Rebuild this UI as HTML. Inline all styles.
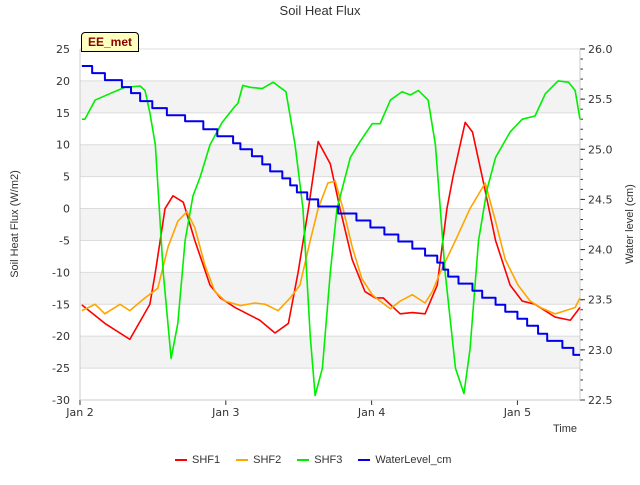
<!DOCTYPE html>
<html><head><meta charset="utf-8"><style>
body{margin:0;background:#fff;font-family:"Liberation Sans","DejaVu Sans",sans-serif}
svg text{font-family:"DejaVu Sans","Liberation Sans",sans-serif}
</style></head><body>
<svg id="c" width="640" height="480"></svg>
<script>
const xTickLabels=["Jan 2","Jan 3","Jan 4","Jan 5"];
const xTickHours=[0,24,48,72];
const yTicks=[25,20,15,10,5,0,-5,-10,-15,-20,-25,-30];
const y2Ticks=[26.0,25.5,25.0,24.5,24.0,23.5,23.0,22.5];
const shf1T=[0.3,4.1,8.2,11.5,12.4,14,15.3,17,18.9,21.4,23.1,25.5,29.6,32.1,34.3,35.9,37.6,39.2,41.2,42.8,44.8,46.9,48.6,49.9,52.7,54.7,56.8,58.8,60.4,61.4,63.4,64.6,66.2,68.4,70.8,72.8,74.9,78.2,80.7,82.3];
const shf1V=[-15.1,-18,-20.5,-15,-10,0,2,1,-5,-12,-14,-15.5,-17.5,-19.5,-18,-10,0,10.5,7,0,-8,-13,-14,-14,-16.5,-16.3,-16.5,-12,0,5,13.5,12,5,-5,-12,-14.5,-15,-17,-17.5,-15.5];
const shf2T=[0.3,2.5,4.1,4.9,6.6,8.2,10.7,12.8,14.5,16.1,17.6,18.9,20.6,22.2,23.9,26.4,28.8,30.5,32.6,34.6,36.2,37.9,39.2,40.8,42,43.3,44.8,46.4,48.1,49.4,51.1,52.7,54.7,56.8,58,59.3,61.8,64.2,66.7,68.4,70,72.1,74.1,75.8,78.2,79.9,81.5,82.3];
const shf2V=[-16,-15,-16.5,-16,-15,-16,-14,-12.5,-6,-2,-0.5,-3,-9,-13,-14.5,-15.2,-14.8,-15,-16,-14,-12,-5,0,4,4.3,0,-6,-11,-13.5,-14.5,-15.7,-14.5,-13.5,-14.8,-13,-10,-5,0,4,-2,-8,-12,-14.5,-15.5,-16.5,-16,-15.5,-14];
const shf3T=[0.3,0.8,2.5,4.9,7.4,9.9,10.7,11.5,12.4,13.7,15,16.1,17.3,18.6,19.8,21.4,23.4,25.5,26,26.8,28,30,31.8,33.9,35.4,36.7,37.9,38.7,39.9,41.2,42.3,44.5,46.1,48.1,49.4,51.1,53,54.4,55.7,57.3,58.5,60.1,61.8,63.2,64.2,65.6,67,68.4,70.8,72.8,74.9,76.6,78.7,80.4,81.5,82.3];
const shf3V=[14,14,17,18,19,19.2,18.5,15,10,-10,-23.5,-18,-5,2,5,10,13.5,16,16.5,19.3,19,18.8,19.8,18.3,10,0,-20,-29.3,-25,-10,0,8,10.5,13.3,13.3,17,18.3,17.8,18.5,17,10,-10,-25,-29,-22,-5,3,8,12,14,14.5,18,20,19.8,18.5,14];
const wlT=[0.3,2,4.1,6.9,8.4,9.9,11.9,14.3,17.3,20.3,22.6,25.2,26.4,28.3,30,31.3,33.3,34.6,35.7,37.4,39.2,42.5,45.5,47.8,50.1,52.4,54.7,56.8,58.8,59.8,60.6,62.3,64.6,66.2,68.4,70,72,73.6,75.4,76.9,79.4,81.2];
const wlV=[25.83,25.76,25.69,25.62,25.56,25.48,25.41,25.34,25.28,25.20,25.13,25.06,25.00,24.93,24.85,24.78,24.71,24.64,24.57,24.50,24.43,24.36,24.29,24.22,24.15,24.08,24.01,23.94,23.87,23.80,23.73,23.66,23.59,23.52,23.45,23.38,23.31,23.24,23.16,23.09,23.02,22.95];
const X0=80,X1=580,Y0=49,Y1=400,HMAX=82.3;
const xs=h=>X0+(X1-X0)*h/HMAX;
const ys=v=>Y0+(25-v)*(Y1-Y0)/55;
const y2s=v=>Y0+(26-v)*(Y1-Y0)/3.5;
const svg=document.getElementById('c');const NS='http://www.w3.org/2000/svg';
function mk(tag,attrs,parent){const e=document.createElementNS(NS,tag);for(const k in attrs)e.setAttribute(k,attrs[k]);(parent||svg).appendChild(e);return e;}
function txt(s,attrs){const e=mk('text',attrs);e.textContent=s;return e;}
// bands
for(let v=20;v>-30;v-=10){const b=mk('rect',{x:X0,y:ys(v),width:X1-X0,height:ys(v-5)-ys(v),fill:'#f3f3f3'});

}
yTicks.forEach(v=>{const l=mk('line',{x1:X0,x2:X1,y1:ys(v),y2:ys(v),stroke:'#dcdcdc','stroke-width':1});


const t=txt(String(v),{x:X0-10,y:ys(v)+4,'text-anchor':'end','font-size':11,fill:'#333'});

});
y2Ticks.forEach(v=>{const t=txt(v.toFixed(1),{x:X1+8,y:y2s(v)+4,'font-size':11,fill:'#333'});


mk('line',{x1:X1,x2:X1+5,y1:y2s(v),y2:y2s(v),stroke:'#333'});});
for(let i=0;i<35;i++){const v=26-i*0.1;mk('line',{x1:X1,x2:X1+3,y1:y2s(v),y2:y2s(v),stroke:'#333'});}
xTickHours.forEach((h,i)=>{mk('line',{x1:xs(h),x2:xs(h),y1:Y1,y2:Y1+5,stroke:'#333'});
const t=txt(xTickLabels[i],{x:xs(h),y:Y1+16,'text-anchor':'middle','font-size':11,fill:'#333'});

});
mk('line',{x1:X0,x2:X0,y1:Y0,y2:Y1,stroke:'#ccc'});mk('line',{x1:X1,x2:X1,y1:Y0,y2:Y1,stroke:'#ccc'});
mk('line',{x1:X0,x2:X1,y1:Y1,y2:Y1,stroke:'#ccc'});
function series(T,V,ysc,color,name,step){let d='';T.forEach((t,i)=>{const x=xs(t),y=ysc(V[i]);
if(i==0)d+='M'+x+','+y;else if(step)d+='H'+x+'V'+y;else d+='L'+x+','+y;});
if(step)d+='H'+X1;
const p=mk('path',{d:d,fill:'none',stroke:color,'stroke-width':step?2:1.6,'stroke-linejoin':'round'});

}
series(shf1T,shf1V,ys,'#ff0000','shf1-line');
series(shf2T,shf2V,ys,'#ffa500','shf2-line');
series(shf3T,shf3V,ys,'#00ee00','shf3-line');
series(wlT,wlV,y2s,'#0000ee','water-level-line',true);
</script>
<div style="position:absolute;left:0;top:0;width:640px;height:480px;pointer-events:none">
<div style="position:absolute;top:3px;width:640px;text-align:center;font-size:13px;color:#333">Soil Heat Flux</div>
<div style="position:absolute;left:81px;top:32px;padding:2px 6px;background:#ffffc0;border:1px solid #000;border-radius:4px 4px 0 0;font-size:12px;font-weight:bold;color:#8b0000">EE_met</div>
<div style="position:absolute;left:-45px;top:218px;width:120px;text-align:center;transform:rotate(-90deg);font-size:11px;color:#333">Soil Heat Flux (W/m2)</div>
<div style="position:absolute;left:575px;top:218px;width:110px;text-align:center;transform:rotate(-90deg);font-size:11px;color:#333">Water level (cm)</div>
<div style="position:absolute;left:553px;top:423px;font-size:11px;color:#333">Time</div>
<div style="position:absolute;top:454px;left:175px;font-size:11px;color:#333;display:flex;gap:16px;white-space:nowrap">
<span><span style="display:inline-block;width:12px;height:2px;background:#f00;vertical-align:middle;margin-right:5px"></span>SHF1</span>
<span><span style="display:inline-block;width:12px;height:2px;background:#ffa500;vertical-align:middle;margin-right:5px"></span>SHF2</span>
<span><span style="display:inline-block;width:12px;height:2px;background:#0e0;vertical-align:middle;margin-right:5px"></span>SHF3</span>
<span><span style="display:inline-block;width:12px;height:2px;background:#00e;vertical-align:middle;margin-right:5px"></span>WaterLevel_cm</span>
</div></div>
</body></html>
